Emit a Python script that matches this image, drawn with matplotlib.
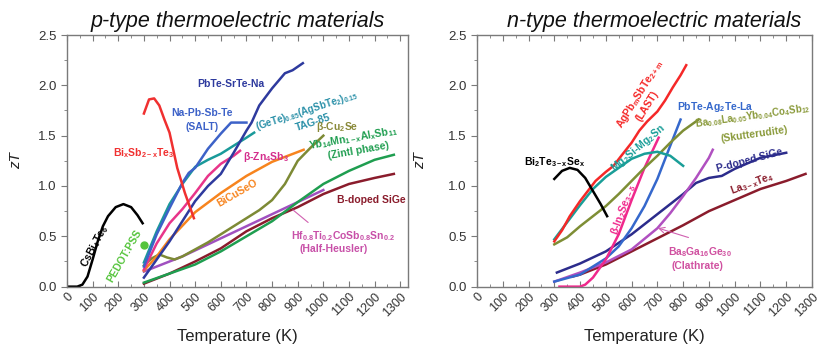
import matplotlib
matplotlib.use('Agg')
import matplotlib.pyplot as plt
from matplotlib.ticker import MultipleLocator

plt.rcParams['font.family'] = ['Liberation Sans', 'DejaVu Sans']
plt.rcParams['mathtext.fontset'] = 'custom'
plt.rcParams['mathtext.rm'] = 'Liberation Sans:bold'
plt.rcParams['mathtext.it'] = 'Liberation Sans:italic:bold'
plt.rcParams['mathtext.bf'] = 'Liberation Sans:bold'
plt.rcParams['mathtext.default'] = 'rm'

# ---------------- p-type data ----------------
cs_T = [0, 40, 60, 80, 100, 120, 140, 160, 190, 220, 250, 275, 295]
cs_zT = [0, 0, 0.02, 0.1, 0.27, 0.45, 0.6, 0.7, 0.79, 0.82, 0.79, 0.71, 0.63]
pedot_T = [300]
pedot_zT = [0.41]
bis_T = [300, 320, 340, 360, 380, 400, 430, 460, 495]
bis_zT = [1.72, 1.86, 1.87, 1.8, 1.66, 1.53, 1.18, 0.93, 0.68]
srte_T = [300, 350, 400, 450, 500, 550, 600, 650, 700, 720, 750, 800, 850, 880, 920]
srte_zT = [0.09, 0.27, 0.45, 0.65, 0.85, 1.0, 1.12, 1.33, 1.55, 1.63, 1.8, 1.97, 2.12, 2.15, 2.22]
salt_T = [300, 325, 350, 400, 450, 475, 500, 550, 600, 640, 700]
salt_zT = [0.2, 0.36, 0.52, 0.78, 1.03, 1.13, 1.18, 1.37, 1.52, 1.63, 1.63]
tag_T = [300, 350, 400, 450, 500, 550, 600, 650, 700, 730]
tag_zT = [0.24, 0.55, 0.82, 1.02, 1.19, 1.26, 1.32, 1.4, 1.48, 1.53]
zn_T = [300, 350, 400, 450, 500, 550, 600, 650, 675]
zn_zT = [0.17, 0.43, 0.63, 0.77, 0.93, 1.1, 1.22, 1.3, 1.35]
bco_T = [300, 350, 400, 500, 600, 700, 800, 923]
bco_zT = [0.16, 0.3, 0.47, 0.74, 0.93, 1.1, 1.24, 1.36]
cuse_T = [300, 330, 360, 390, 420, 450, 500, 550, 600, 650, 700, 750, 800, 850, 900, 950, 1000]
cuse_zT = [0.21, 0.28, 0.32, 0.29, 0.27, 0.3, 0.37, 0.44, 0.52, 0.6, 0.68, 0.76, 0.86, 1.02, 1.25, 1.38, 1.5]
yb_T = [300, 400, 500, 600, 700, 800, 900, 1000, 1100, 1200, 1275]
yb_zT = [0.04, 0.13, 0.22, 0.35, 0.5, 0.65, 0.84, 1.02, 1.15, 1.26, 1.31]
sigeb_T = [300, 400, 500, 600, 700, 800, 900, 1000, 1100, 1200, 1275]
sigeb_zT = [0.03, 0.13, 0.25, 0.38, 0.55, 0.68, 0.79, 0.92, 1.02, 1.08, 1.12]
hh_T = [300, 350, 400, 450, 500, 600, 700, 800, 900, 1000]
hh_zT = [0.15, 0.2, 0.25, 0.3, 0.36, 0.48, 0.6, 0.72, 0.84, 0.96]

# ---------------- n-type data ----------------
bt_T = [300, 330, 360, 390, 420, 450, 480, 505]
bt_zT = [1.07, 1.15, 1.18, 1.16, 1.08, 0.95, 0.82, 0.7]
last_T = [300, 330, 360, 400, 430, 460, 500, 530, 560, 600, 630, 660, 700, 730, 760, 790, 812]
last_zT = [0.45, 0.56, 0.7, 0.85, 0.95, 1.05, 1.14, 1.2, 1.3, 1.43, 1.55, 1.64, 1.74, 1.85, 1.98, 2.1, 2.2]
mg_T = [300, 350, 400, 450, 500, 550, 600, 650, 700, 750, 800]
mg_zT = [0.47, 0.64, 0.81, 0.97, 1.09, 1.18, 1.27, 1.32, 1.34, 1.3, 1.2]
skut_T = [300, 350, 400, 450, 500, 550, 600, 650, 700, 750, 800, 860]
skut_zT = [0.42, 0.49, 0.6, 0.7, 0.8, 0.92, 1.05, 1.18, 1.3, 1.43, 1.55, 1.66]
pbag_T = [300, 400, 500, 550, 600, 650, 700, 750, 790]
pbag_zT = [0.05, 0.12, 0.28, 0.4, 0.58, 0.8, 1.07, 1.4, 1.66]
inse_T = [320, 350, 400, 420, 450, 500, 550, 600, 650, 705]
inse_zT = [0, 0, 0, 0.02, 0.09, 0.27, 0.52, 0.86, 1.18, 1.48]
clath_T = [300, 400, 500, 600, 700, 750, 800, 850, 900, 915]
clath_zT = [0.05, 0.14, 0.24, 0.37, 0.58, 0.73, 0.9, 1.08, 1.28, 1.36]
sigep_T = [310, 400, 500, 600, 700, 800, 850, 900, 950, 1000, 1100, 1200]
sigep_zT = [0.14, 0.23, 0.35, 0.52, 0.72, 0.92, 1.03, 1.08, 1.1, 1.17, 1.28, 1.33]
la_T = [370, 400, 500, 600, 700, 800, 900, 1000, 1100, 1200, 1275]
la_zT = [0.1, 0.12, 0.22, 0.35, 0.48, 0.61, 0.75, 0.86, 0.97, 1.05, 1.12]

x_ticks = list(range(0, 1301, 100))
y_ticks = [0.0, 0.5, 1.0, 1.5, 2.0, 2.5]

fig = plt.figure(figsize=(8.21, 3.5), dpi=100)
axL = fig.add_axes([0.0816, 0.181, 0.4153, 0.719])
axR = fig.add_axes([0.581, 0.181, 0.408, 0.719])

SP = '#7a7a7a'
for ax, xmax in ((axL, 1330), (axR, 1300)):
    ax.set_xlim(0, xmax)
    ax.set_ylim(0, 2.5)
    ax.set_xticks(x_ticks)
    ax.set_xticklabels([str(t) for t in x_ticks], rotation=45, ha='right',
                       va='top', rotation_mode='anchor')
    ax.set_yticks(y_ticks)
    ax.set_yticklabels(['%.1f' % v for v in y_ticks])
    ax.xaxis.set_minor_locator(MultipleLocator(50))
    ax.yaxis.set_minor_locator(MultipleLocator(0.25))
    ax.tick_params(axis='x', which='both', direction='in', top=True, bottom=True,
                   colors=SP, labelcolor='#333333', labelsize=9)
    ax.tick_params(axis='x', which='major', length=4, pad=3)
    ax.tick_params(axis='x', which='minor', length=2)
    ax.tick_params(axis='y', which='both', direction='out', colors=SP,
                   labelcolor='#333333', labelsize=9.5)
    ax.tick_params(axis='y', which='major', length=4)
    ax.tick_params(axis='y', which='minor', length=2)
    for s in ax.spines.values():
        s.set_color(SP)
        s.set_linewidth(1.0)
    ax.set_xlabel('Temperature (K)', fontsize=12, color='#222222', labelpad=7)
    ax.set_ylabel('zT', fontsize=11, style='italic', color='#222222')

axL.yaxis.set_label_coords(-0.128, 0.5)
axR.yaxis.set_label_coords(-0.15, 0.5)

axL.set_title('p-type thermoelectric materials', fontsize=15.5, style='italic',
              color='#111111', pad=6)
axR.set_title('n-type thermoelectric materials', fontsize=15.5, style='italic',
              color='#111111', pad=6, x=0.53)

LW = 1.8
FS = 7.5

def lbl(ax, x, y, s, c, rot=0, fs=FS):
    ax.text(x, y, s, color=c, fontsize=fs, fontweight='bold', rotation=rot,
            ha='center', va='center', rotation_mode='anchor', clip_on=False)

# ---- p-type curves ----
C_CS = 'black'; C_PED = '#55C43C'; C_BIS = '#F03030'; C_SR = '#2E3A9E'
C_SALT = '#3D62C8'; C_TAG = '#1A9A9A'; C_ZN = '#E8358A'; C_BCO = '#F7841E'
C_CU = '#7D8A35'; C_YB = '#1F9E50'; C_SGB = '#8A1C2C'; C_HH = '#A050C0'

axL.plot(cs_T, cs_zT, color=C_CS, lw=LW)
axL.plot(pedot_T, pedot_zT, 'o', color=C_PED, ms=5)
axL.plot(hh_T, hh_zT, color=C_HH, lw=LW)
axL.plot(sigeb_T, sigeb_zT, color=C_SGB, lw=LW)
axL.plot(yb_T, yb_zT, color=C_YB, lw=LW)
axL.plot(cuse_T, cuse_zT, color=C_CU, lw=LW)
axL.plot(bco_T, bco_zT, color=C_BCO, lw=LW)
axL.plot(zn_T, zn_zT, color=C_ZN, lw=LW)
axL.plot(tag_T, tag_zT, color=C_TAG, lw=LW)
axL.plot(salt_T, salt_zT, color=C_SALT, lw=LW)
axL.plot(srte_T, srte_zT, color=C_SR, lw=LW)
axL.plot(bis_T, bis_zT, color=C_BIS, lw=LW)

lbl(axL, 108, 0.40, r'CsBi$_4$Te$_6$', C_CS, rot=62)
lbl(axL, 225, 0.30, 'PEDOT:PSS', C_PED, rot=60, fs=7.5)
lbl(axL, 300, 1.33, r'Bi$_x$Sb$_{2-x}$Te$_3$', C_BIS)
lbl(axL, 640, 2.01, 'PbTe-SrTe-Na', C_SR)
lbl(axL, 526, 1.73, 'Na-Pb-Sb-Te', C_SALT)
lbl(axL, 526, 1.59, '(SALT)', C_SALT)
lbl(axL, 937, 1.75, r'(GeTe)$_{0.85}$(AgSbTe$_2$)$_{0.15}$', '#2A90A8', rot=18, fs=7)
lbl(axL, 962, 1.63, 'TAG-85', '#2A90A8', rot=18)
lbl(axL, 775, 1.29, r'β-Zn$_4$Sb$_3$', '#D42E8C')
lbl(axL, 664, 0.93, 'BiCuSeO', C_BCO, rot=30)
lbl(axL, 1055, 1.59, r'β-Cu$_2$Se', '#8A8A3A')
lbl(axL, 1118, 1.47, r'Yb$_{14}$Mn$_{1-x}$Al$_x$Sb$_{11}$', C_YB, rot=10)
lbl(axL, 1138, 1.355, '(Zintl phase)', C_YB, rot=10)
lbl(axL, 1186, 0.86, 'B-doped SiGe', C_SGB)
lbl(axL, 1075, 0.50, r'Hf$_{0.8}$Ti$_{0.2}$CoSb$_{0.8}$Sn$_{0.2}$', '#C850A8')
lbl(axL, 1040, 0.37, '(Half-Heusler)', '#C850A8')
axL.annotate('', xy=(873, 0.78), xytext=(949, 0.62),
             arrowprops=dict(arrowstyle='-', color='#D060B0', lw=0.8))

# ---- n-type curves ----
C_BT = 'black'; C_LAST = '#F52828'; C_MG = '#1A9E98'; C_SK = '#7E8E35'
C_PBAG = '#3568CC'; C_IN = '#F0288C'; C_CL = '#B050C0'; C_SGP = '#2C2C8C'
C_LA = '#8A1C2C'

axR.plot(la_T, la_zT, color=C_LA, lw=LW)
axR.plot(sigep_T, sigep_zT, color=C_SGP, lw=LW)
axR.plot(clath_T, clath_zT, color=C_CL, lw=LW)
axR.plot(pbag_T, pbag_zT, color=C_PBAG, lw=LW)
axR.plot(inse_T, inse_zT, color=C_IN, lw=LW)
axR.plot(skut_T, skut_zT, color=C_SK, lw=LW)
axR.plot(mg_T, mg_zT, color=C_MG, lw=LW)
axR.plot(last_T, last_zT, color=C_LAST, lw=LW)
axR.plot(bt_T, bt_zT, color=C_BT, lw=LW)

lbl(axR, 300, 1.24, r'Bi$_2$Te$_{3-x}$Se$_x$', C_BT)
lbl(axR, 630, 1.91, r'AgPb$_m$SbTe$_{2+m}$', C_LAST, rot=58)
lbl(axR, 660, 1.79, '(LAST)', C_LAST, rot=58)
lbl(axR, 627, 1.38, r'Mg$_2$Si-Mg$_2$Sn', C_MG, rot=40)
lbl(axR, 925, 1.78, r'PbTe-Ag$_2$Te-La', C_PBAG)
lbl(axR, 1070, 1.69, r'Ba$_{0.08}$La$_{0.05}$Yb$_{0.04}$Co$_4$Sb$_{12}$', '#8A9A3A', rot=8, fs=7)
lbl(axR, 1075, 1.51, '(Skutterudite)', '#8A9A3A', rot=8)
lbl(axR, 1058, 1.25, 'P-doped SiGe', C_SGP, rot=15)
lbl(axR, 1069, 1.02, r'La$_{3-x}$Te$_4$', C_LA, rot=20)
lbl(axR, 569, 0.77, r'β-In$_2$Se$_{3-δ}$', C_IN, rot=70)
lbl(axR, 866, 0.34, r'Ba$_8$Ga$_{16}$Ge$_{30}$', '#D050A0')
lbl(axR, 857, 0.21, '(Clathrate)', '#D050A0')
axR.annotate('', xy=(692, 0.59), xytext=(831, 0.48),
             arrowprops=dict(arrowstyle='->', color='#D060B0', lw=0.8))

fig.savefig('out.png', dpi=100)
